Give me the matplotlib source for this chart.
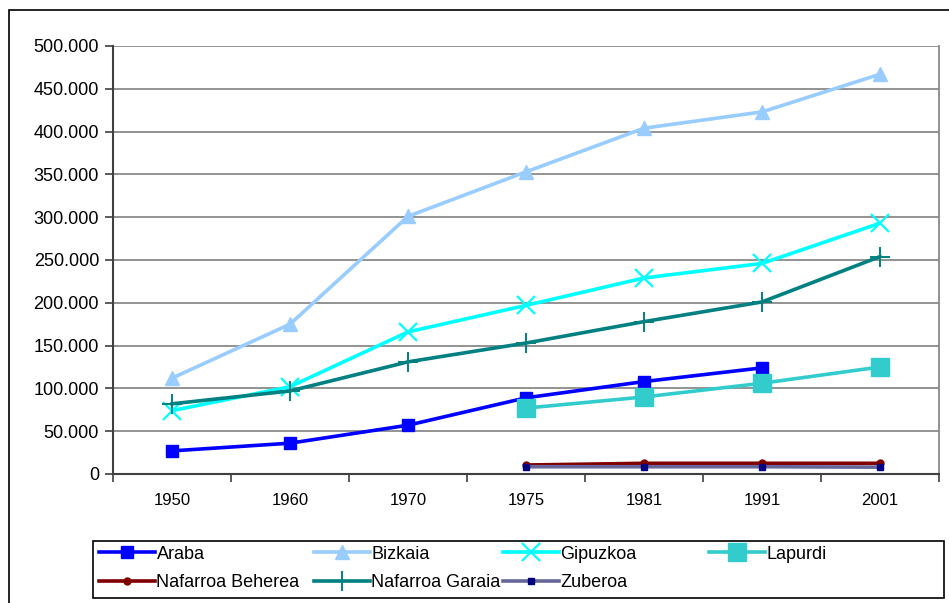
import numpy as np
import matplotlib.pyplot as plt
from matplotlib.ticker import FuncFormatter
from matplotlib.patches import Rectangle

plt.rcParams['font.family'] = ['Liberation Sans', 'DejaVu Sans']

# ---------------------- datos ----------------------
years = ['1950', '1960', '1970', '1975', '1981', '1991', '2001']
nan = np.nan
araba = [27000, 36000, 57000, 89000, 108000, 124000, nan]
bizkaia = [112000, 175000, 301000, 353000, 404000, 423000, 467000]
gipuzkoa = [74000, 102000, 166000, 197000, 229000, 246000, 293000]
lapurdi = [nan, nan, nan, 77000, 90000, 106000, 125000]
nafarroa_beherea = [nan, nan, nan, 10500, 12500, 12500, 12500]
nafarroa_garaia = [82000, 97000, 131000, 153000, 178000, 201000, 254000]
zuberoa = [nan, nan, nan, 8500, 8500, 8500, 8000]

# ---------------------- figura ----------------------
fig = plt.figure(figsize=(9.49, 6.03), dpi=100)
W, H = 949, 603
ax = fig.add_axes([113 / W, (H - 474) / H, 826 / W, 428 / H])

x = np.arange(len(years))
lw = 2.6
h_ar, = ax.plot(x, araba, color='#0000FF', lw=lw, marker='s', ms=8, label='Araba')
h_bi, = ax.plot(x, bizkaia, color='#99CCFF', lw=lw, marker='^', ms=10, label='Bizkaia')
h_gi, = ax.plot(x, gipuzkoa, color='#00FFFF', lw=lw, marker='x', ms=13, mew=1.6, label='Gipuzkoa')
h_la, = ax.plot(x, lapurdi, color='#33CCCC', lw=lw, marker='s', ms=13, label='Lapurdi')
h_nb, = ax.plot(x, nafarroa_beherea, color='#800000', lw=lw, marker='o', ms=5, label='Nafarroa Beherea')
h_ng, = ax.plot(x, nafarroa_garaia, color='#008080', lw=lw, marker='+', ms=15, mew=1.4, label='Nafarroa Garaia')
h_zu, = ax.plot(x, zuberoa, color='#666699', lw=lw, marker='s', ms=4, mfc='#000080', mec='#000080',
                label='Zuberoa')

ax.set_xlim(-0.5, len(years) - 0.5)
ax.set_ylim(0, 500000)
ax.set_yticks(np.arange(0, 500001, 50000))
ax.yaxis.set_major_formatter(FuncFormatter(lambda v, p: f'{int(v):,}'.replace(',', '.')))
ax.set_xticks(x)
ax.set_xticklabels(years)
ax.set_xticks(np.arange(-0.5, len(years), 1), minor=True)
ax.tick_params(axis='x', which='major', length=0, pad=14, labelsize=12)
ax.tick_params(axis='x', which='minor', length=6, width=1.2, color='#404040', direction='out')
ax.tick_params(axis='y', length=6, width=1.2, color='#404040', labelsize=13, pad=4)

ax.grid(axis='y', color='#808080', lw=1.2)
ax.set_axisbelow(True)
for s in ['left', 'bottom']:
    ax.spines[s].set_color('#404040')
    ax.spines[s].set_linewidth(1.5)
ax.spines['right'].set_color('#808080')
ax.spines['right'].set_linewidth(1.2)
ax.spines['top'].set_visible(False)

# borde exterior
fig.patches.append(Rectangle((9 / W, -0.1), 1.2, (H - 10) / H + 0.1, transform=fig.transFigure,
                             fill=False, ec='black', lw=1.2))

# leyenda
fig.patches.append(Rectangle((93 / W, (H - 598) / H), (944 - 93) / W, 57 / H, transform=fig.transFigure,
                             fill=False, ec='black', lw=1.2))
cols = [([h_ar, h_nb], 96), ([h_bi, h_ng], 311), ([h_gi, h_zu], 500), ([h_la], 706)]
for hs, px in cols:
    fig.legend(handles=hs, loc='upper left', bbox_to_anchor=(px / W, (H - 543) / H),
               frameon=False, fontsize=13, handlelength=3.1, handletextpad=0.1,
               labelspacing=0.65, borderpad=0.15, borderaxespad=0)

plt.savefig('out.png', dpi=100)
